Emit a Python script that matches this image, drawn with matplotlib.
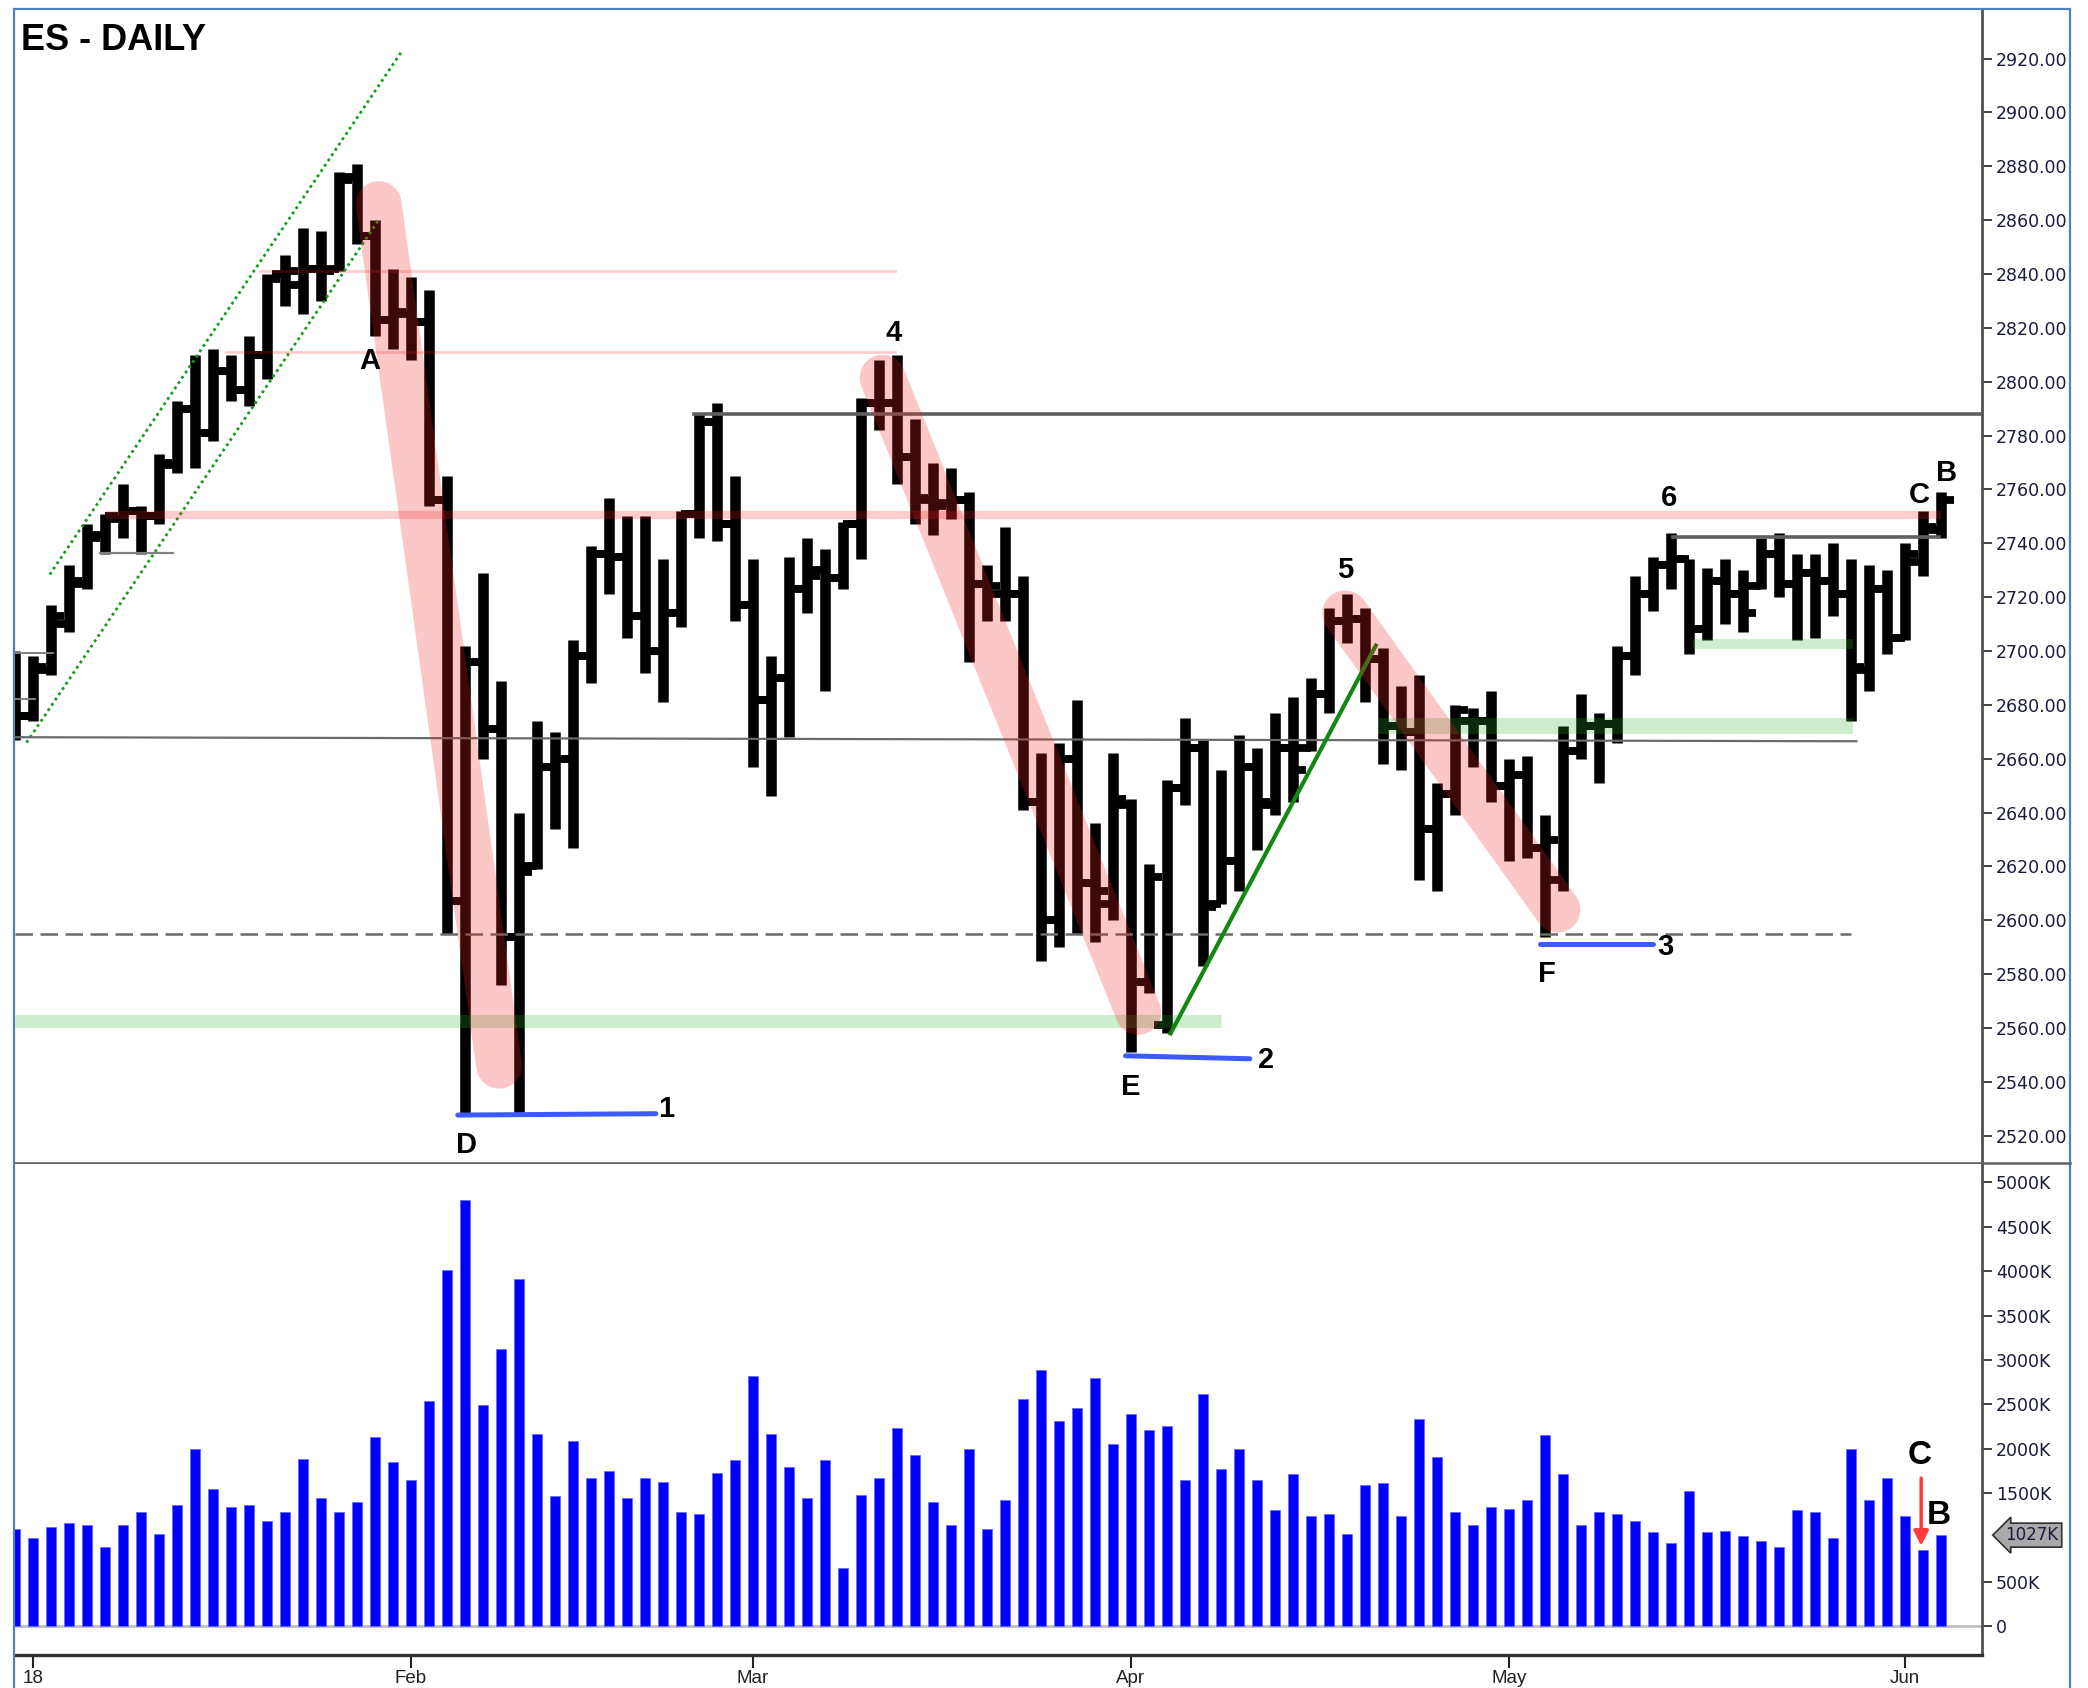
import numpy as np
import matplotlib
matplotlib.use("Agg")
import matplotlib.pyplot as plt
from matplotlib.transforms import blended_transform_factory
from matplotlib.lines import Line2D
from matplotlib.patches import Rectangle

# daily bars, Dec 29 2017 .. Jun 5 2018 (index = trading day)
opens = [2690, 2676, 2693, 2710, 2725, 2743, 2749, 2752, 2750, 2769,
         2790, 2781, 2804, 2797, 2810, 2840, 2836, 2842, 2842, 2876,
         2854, 2823, 2825, 2822, 2756, 2607, 2696, 2671, 2594, 2620,
         2657, 2660, 2698, 2736, 2735, 2713, 2700, 2714, 2751, 2785,
         2747, 2717, 2682, 2690, 2723, 2730, 2727, 2747, 2792, 2792,
         2772, 2756, 2755, 2756, 2725, 2721, 2721, 2644, 2600, 2660,
         2614, 2606, 2643, 2577, 2561, 2649, 2664, 2606, 2622, 2657,
         2643, 2664, 2664, 2684, 2711, 2712, 2697, 2672, 2670, 2634,
         2647, 2674, 2674, 2650, 2654, 2627, 2615, 2663, 2672, 2673,
         2698, 2721, 2732, 2734, 2708, 2726, 2721, 2724, 2736, 2725,
         2729, 2726, 2721, 2693, 2723, 2705, 2733, 2745]
highs = [2700, 2698, 2717, 2732, 2747, 2751, 2762, 2754, 2773, 2793,
         2810, 2812, 2810, 2817, 2840, 2847, 2857, 2856, 2878, 2881,
         2860, 2842, 2839, 2834, 2765, 2702, 2729, 2689, 2640, 2674,
         2670, 2704, 2739, 2757, 2750, 2750, 2734, 2752, 2788, 2792,
         2765, 2734, 2698, 2735, 2742, 2738, 2748, 2794, 2808, 2810,
         2786, 2770, 2768, 2759, 2732, 2746, 2728, 2662, 2666, 2682,
         2636, 2662, 2645, 2621, 2652, 2675, 2667, 2656, 2669, 2664,
         2677, 2683, 2690, 2716, 2721, 2716, 2701, 2687, 2691, 2651,
         2680, 2679, 2685, 2660, 2661, 2639, 2672, 2684, 2677, 2702,
         2728, 2735, 2744, 2734, 2731, 2734, 2730, 2742, 2744, 2736,
         2736, 2740, 2734, 2732, 2730, 2740, 2752, 2759]
lows = [2667, 2674, 2691, 2707, 2723, 2736, 2742, 2736, 2747, 2766,
        2768, 2778, 2793, 2791, 2801, 2828, 2825, 2830, 2841, 2851,
        2817, 2812, 2808, 2754, 2595, 2528, 2660, 2576, 2528, 2619,
        2634, 2627, 2688, 2721, 2705, 2692, 2681, 2709, 2742, 2741,
        2711, 2657, 2646, 2668, 2714, 2685, 2723, 2734, 2782, 2762,
        2747, 2743, 2749, 2696, 2711, 2711, 2641, 2585, 2590, 2595,
        2592, 2600, 2551, 2573, 2558, 2643, 2583, 2606, 2611, 2626,
        2639, 2644, 2663, 2677, 2703, 2681, 2658, 2656, 2615, 2611,
        2639, 2657, 2644, 2622, 2623, 2594, 2611, 2660, 2651, 2666,
        2691, 2715, 2723, 2699, 2704, 2710, 2707, 2723, 2720, 2704,
        2705, 2713, 2674, 2685, 2699, 2704, 2728, 2742]
closes = [2676, 2694, 2713, 2726, 2742, 2750, 2752, 2750, 2770, 2790,
          2781, 2804, 2797, 2810, 2838, 2841, 2842, 2841, 2875, 2854,
          2823, 2826, 2822, 2756, 2607, 2696, 2671, 2594, 2618, 2657,
          2660, 2698, 2736, 2735, 2713, 2700, 2714, 2751, 2785, 2747,
          2717, 2682, 2690, 2723, 2728, 2727, 2747, 2792, 2792, 2772,
          2757, 2754, 2756, 2725, 2724, 2721, 2644, 2600, 2660, 2614,
          2611, 2645, 2577, 2616, 2649, 2664, 2605, 2622, 2657, 2644,
          2664, 2656, 2684, 2711, 2712, 2697, 2672, 2670, 2634, 2647,
          2678, 2674, 2650, 2654, 2627, 2630, 2663, 2672, 2673, 2698,
          2721, 2732, 2734, 2708, 2726, 2721, 2714, 2736, 2725, 2729,
          2726, 2721, 2694, 2723, 2705, 2736, 2746, 2756]
volume_k = [1098, 996, 1121, 1163, 1144, 898, 1144, 1284, 1041, 1363,
            1992, 1549, 1344, 1363, 1182, 1284, 1890, 1447, 1284, 1405,
            2132, 1852, 1647, 2537, 4014, 4802, 2496, 3124, 3912, 2170,
            1466, 2090, 1670, 1750, 1447, 1670, 1628, 1284, 1265, 1731,
            1871, 2825, 2170, 1791, 1447, 1871, 655, 1484, 1670, 2234,
            1931, 1405, 1144, 1992, 1098, 1428, 2560, 2882, 2318, 2458,
            2802, 2053, 2397, 2215, 2257, 1651, 2621, 1769, 1992, 1651,
            1307, 1712, 1246, 1265, 1041, 1587, 1609, 1246, 2337, 1912,
            1284, 1144, 1344, 1325, 1428, 2155, 1712, 1144, 1284, 1265,
            1182, 1060, 939, 1526, 1060, 1079, 1019, 958, 898, 1307,
            1284, 1000, 1992, 1428, 1670, 1246, 860, 1027]

month_pos = [1, 22, 41, 62, 83, 105]
month_labels = ["18", "Feb", "Mar", "Apr", "May", "Jun"]
price_ticks = list(range(2520, 2921, 20))
vol_ticks = [0, 500, 1500, 2000, 2500, 3000, 3500, 4000, 4500, 5000]
last_vol = 1027

W, H = 2088, 1688
fig = plt.figure(figsize=(W / 100, H / 100), dpi=100)
ax = fig.add_axes([15 / W, 1 - 1163 / H, 1967 / W, 1154 / H])
axv = fig.add_axes([15 / W, 1 - 1655 / H, 1967 / W, 491 / H])

x = np.arange(len(highs))
bold = dict(fontsize=21, fontweight="bold", family="Liberation Sans",
            ha="center", va="center", zorder=8)

# price bars
ax.vlines(x, lows, highs, color="black", lw=7.6, zorder=3)
ax.hlines(opens, x - 0.74, x, color="black", lw=5.6, zorder=3)
ax.hlines(closes, x, x + 0.74, color="black", lw=5.6, zorder=3)

# channel
ax.plot([1.93, 21.46], [2728.4, 2922.4], color="#1a9a1a", lw=2, ls=(0, (1, 1.3)), zorder=4)
ax.plot([0.64, 20.2], [2666.0, 2860.0], color="#1a9a1a", lw=2, ls=(0, (1, 1.3)), zorder=4)

# reference lines
red = "#f02020"
ax.plot([13.6, 48.9], [2841, 2841], color=red, alpha=0.22, lw=2, zorder=5)
ax.plot([11.7, 48.9], [2811, 2811], color=red, alpha=0.22, lw=2, zorder=5)
ax.plot([5.3, 106.8], [2750.5, 2750.5], color=red, alpha=0.22, lw=6, zorder=5)
ax.plot([37.7, 110], [2788, 2788], color="#606060", lw=2.6, zorder=5)
ax.plot([0, 102.3], [2668, 2666.5], color="#6a6a6a", lw=1.6, zorder=5)
ax.plot([0, 102.0], [2595, 2595], color="#6a6a6a", lw=1.8, ls=(0, (7, 3)), zorder=5)
ax.plot([92.1, 106.9], [2742.2, 2742.2], color="#606060", lw=2.6, zorder=5)
ax.plot([4.7, 8.8], [2736.3, 2736.3], color="#808080", lw=1.6, zorder=5)
ax.plot([0, 2.1], [2699.1, 2699.1], color="#808080", lw=1.4, zorder=5)
ax.plot([0, 1.1], [2682.1, 2682.1], color="#808080", lw=1.4, zorder=5)

# green zones
green = "#2cb02c"
ax.plot([0, 67.0], [2562.5, 2562.5], color=green, alpha=0.23, lw=9.4, solid_capstyle="butt", zorder=5)
ax.plot([75.7, 102.1], [2672, 2672], color=green, alpha=0.23, lw=11.5, solid_capstyle="butt", zorder=5)
ax.plot([93.2, 102.1], [2702.6, 2702.6], color=green, alpha=0.23, lw=7, solid_capstyle="butt", zorder=5)

# blue support lines
blue = "#3d5afe"
ax.plot([24.6, 35.6], [2527.7, 2528.2], color=blue, lw=3.6, solid_capstyle="round", zorder=6)
ax.plot([61.7, 68.6], [2549.7, 2548.6], color=blue, lw=3.6, solid_capstyle="round", zorder=6)
ax.plot([84.7, 91.0], [2591.3, 2591.3], color=blue, lw=3.6, solid_capstyle="round", zorder=6)

# trend line
ax.plot([64.2, 75.6], [2558, 2702], color="#118811", lw=3, zorder=6)

# highlighted down legs
for xs, ys in [([20.2, 26.9], [2866, 2546]),
               ([48.2, 62.4], [2801.5, 2566]),
               ([73.9, 85.7], [2714, 2604])]:
    ax.plot(xs, ys, color=red, alpha=0.25, lw=33, solid_capstyle="round", zorder=7)

# labels
for s, xi, yp in [("A", 19.7, 2807.7), ("4", 48.8, 2818), ("D", 25.1, 2516.5),
                  ("1", 36.2, 2530), ("E", 62.0, 2538), ("2", 69.5, 2548),
                  ("5", 73.9, 2730), ("F", 85.1, 2580), ("3", 91.7, 2590),
                  ("6", 91.9, 2757), ("C", 105.8, 2758), ("B", 107.3, 2766)]:
    ax.text(xi, yp, s, **bold)

ax.set_xlim(0, 109.28)
ax.set_ylim(2509.9, 2938.4)
ax.set_xticks([])
ax.yaxis.tick_right()
ax.set_yticks(price_ticks)
ax.set_yticklabels([f"{v:.2f}" for v in price_ticks])
ax.tick_params(axis="y", direction="out", length=7, width=1.2, pad=3,
               labelsize=12.5, colors="#222", labelcolor="#1a1a40")
for s in ["left", "top"]:
    ax.spines[s].set_visible(False)
ax.spines["right"].set_color("#505050")
ax.spines["right"].set_linewidth(2)
ax.spines["bottom"].set_color("#606060")
ax.spines["bottom"].set_linewidth(1.8)

# volume
axv.bar(x, volume_k, width=0.6, color="#0000ff", edgecolor="#6a6aff", linewidth=0.6, zorder=3)
axv.axhline(0, color="#c0c0c0", lw=2, zorder=2)
axv.set_xlim(0, 109.28)
axv.set_ylim(-323, 5208)
axv.yaxis.tick_right()
axv.set_yticks(vol_ticks)
axv.set_yticklabels(["0" if v == 0 else f"{v}K" for v in vol_ticks])
axv.tick_params(axis="y", direction="out", length=7, width=1.2, pad=3,
                labelsize=12.5, colors="#222", labelcolor="#1a1a40")
axv.set_xticks(month_pos)
axv.set_xticklabels(month_labels, family="Liberation Sans")
axv.tick_params(axis="x", direction="out", length=9, width=1.5, pad=2, labelsize=13.5, colors="#222")
for s in ["left", "top"]:
    axv.spines[s].set_visible(False)
axv.spines["right"].set_color("#505050")
axv.spines["right"].set_linewidth(2)
axv.spines["bottom"].set_color("#303030")
axv.spines["bottom"].set_linewidth(2.4)

trans = blended_transform_factory(axv.transAxes, axv.transData)
axv.text(1.012, last_vol, f"{last_vol}K", transform=trans, ha="left", va="center",
         fontsize=12, color="#1a1a40",
         bbox=dict(boxstyle="larrow,pad=0.18", fc="#a9a9a9", ec="#303030", lw=1.2))
axv.annotate("", xy=(105.9, 875), xytext=(105.9, 1700),
             arrowprops=dict(arrowstyle="-|>", color="#ff3b3b", lw=2.5, mutation_scale=22), zorder=8)
axv.text(105.8, 1924, "C", fontsize=24, fontweight="bold", family="Liberation Sans",
         ha="center", va="center", zorder=8)
axv.text(106.9, 1249, "B", fontsize=24, fontweight="bold", family="Liberation Sans",
         ha="center", va="center", zorder=8)

# title and frame
fig.text(21 / W, 1 - 40 / H, "ES - DAILY", fontsize=26, fontweight="bold",
         family="Liberation Sans", ha="left", va="center")
fig.add_artist(Rectangle((14 / W, -0.01), (2070 - 14) / W, 1.01 - 9 / H, transform=fig.transFigure,
                         fill=False, ec="#4f81bd", lw=1.6))
fig.add_artist(Line2D([1982 / W, 2070 / W], [1 - 1163 / H, 1 - 1163 / H], transform=fig.transFigure,
                      color="#606060", lw=1.8))

fig.savefig("out.png", dpi=100)
